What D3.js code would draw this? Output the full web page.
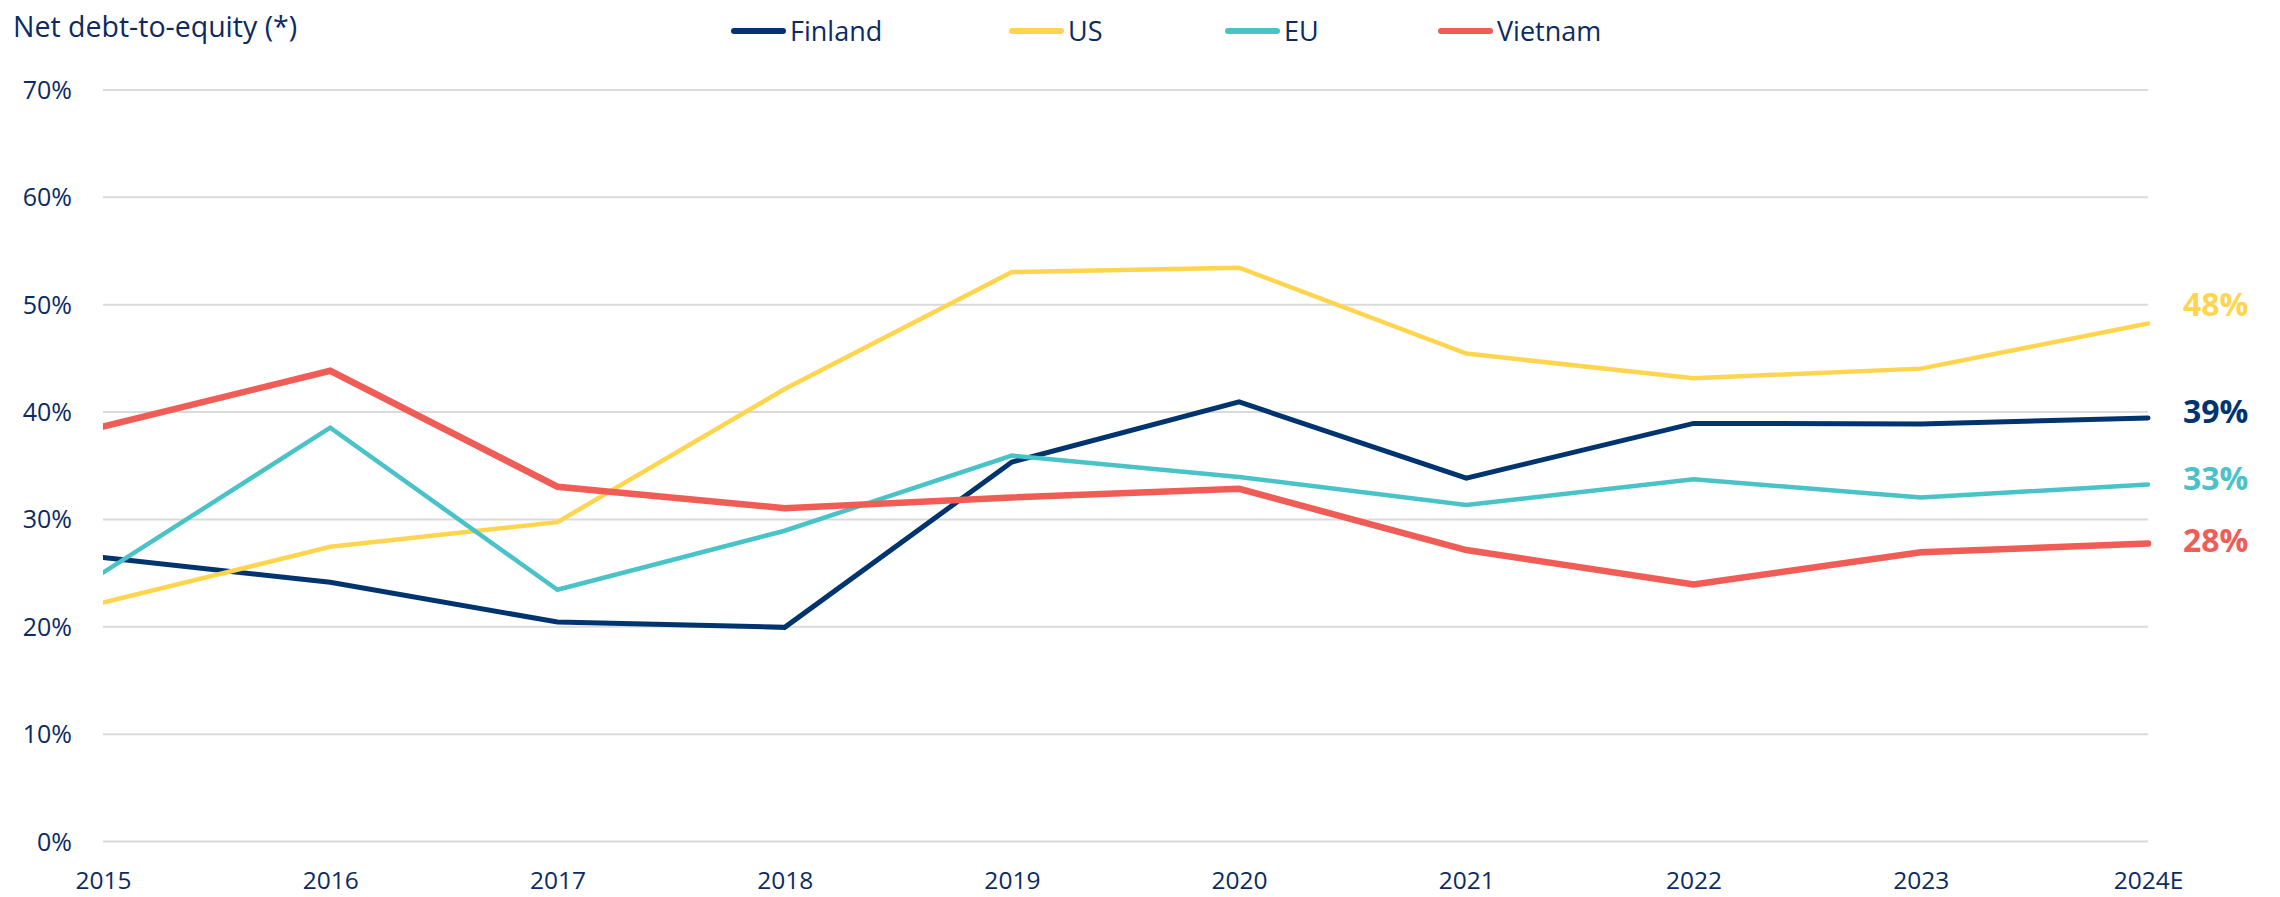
<!DOCTYPE html>
<html>
<head>
<meta charset="utf-8">
<script src="https://cdn.jsdelivr.net/npm/d3@7/dist/d3.min.js"></script>
<style>
  html, body { margin: 0; padding: 0; background: #fff; overflow: hidden; }
  svg { display: block; font-family: "Open Sans", sans-serif; }
</style>
</head>
<body>
<svg id="chart"></svg>
<script>
// <========================== data ==========================>
const years = ["2015", "2016", "2017", "2018", "2019", "2020", "2021", "2022", "2023", "2024E"];
const seriesNames = ["Finland", "US", "EU", "Vietnam"];
const finland = [26.4, 24.1, 20.4, 19.9, 35.3, 40.9, 33.8, 38.9, 38.85, 39.4];
const us = [22.2, 27.4, 29.7, 42.1, 53.0, 53.4, 45.4, 43.1, 44.0, 48.2];
const eu = [25.0, 38.5, 23.4, 28.9, 35.9, 33.9, 31.3, 33.7, 32.0, 33.2];
const vietnam = [38.6, 43.8, 33.0, 31.0, 32.0, 32.8, 27.1, 23.9, 26.9, 27.7];
const yTicks = [0, 10, 20, 30, 40, 50, 60, 70];
const yTitle = "Net debt-to-equity (*)";

const width = 2280;
const height = 897;
const margin = { top: 89.5, right: 132, bottom: 56, left: 103 };
const innerWidth = width - margin.left - margin.right;
const innerHeight = height - margin.top - margin.bottom;

const textColor = "#0c2b62";
const colors = { Finland: "#00346f", US: "#ffd54f", EU: "#4ac3c8", Vietnam: "#f05c56" };
const widths = { Finland: 5, US: 4.5, EU: 4.5, Vietnam: 6.5 };
// end label nudges, in value units
const labelNudge = { Finland: 0.6, US: 1.8, EU: 0.6, Vietnam: 0.3 };
// legend item offsets from the legend origin
const legendOffsets = [0, 278, 494, 707];

const series = [
  { name: "Finland", values: finland },
  { name: "US", values: us },
  { name: "EU", values: eu },
  { name: "Vietnam", values: vietnam },
];

// <========================== scales ==========================>
const x = d3.scalePoint().domain(years).range([0, innerWidth]);
const y = d3.scaleLinear().domain([0, 70]).range([innerHeight, 0]);

const svg = d3.select("#chart").attr("width", width).attr("height", height);

svg.append("defs").append("clipPath").attr("id", "plotclip")
  .append("rect").attr("x", 0).attr("y", -20).attr("width", innerWidth + 20).attr("height", innerHeight + 40);

const g = svg.append("g").attr("transform", `translate(${margin.left},${margin.top})`);

// y axis + gridlines
const yAxisG = g.append("g")
  .call(d3.axisLeft(y).tickValues(yTicks).tickFormat((d) => d + "%").tickSize(-innerWidth).tickPadding(31))
  .attr("font-family", null)
  .attr("font-size", null);
yAxisG.select(".domain").remove();
yAxisG.selectAll(".tick line").attr("stroke", "#dadada").attr("stroke-width", 2);
yAxisG.selectAll(".tick text").attr("fill", textColor).attr("font-size", 25).attr("dy", "0.36em");

// x axis
const xAxisG = g.append("g")
  .attr("transform", `translate(0,${innerHeight})`)
  .call(d3.axisBottom(x).tickSize(0).tickPadding(31))
  .attr("font-family", null)
  .attr("font-size", null);
xAxisG.select(".domain").remove();
xAxisG.selectAll(".tick text").attr("fill", textColor).attr("font-size", 24.5);

// lines
const line = d3.line().x((d, i) => x(years[i])).y((d) => y(d));
g.append("g").attr("clip-path", "url(#plotclip)")
  .selectAll("path")
  .data(series)
  .join("path")
  .attr("d", (d) => line(d.values))
  .attr("fill", "none")
  .attr("stroke", (d) => colors[d.name])
  .attr("stroke-width", (d) => widths[d.name])
  .attr("stroke-linejoin", "miter")
  .attr("stroke-linecap", "round");

// end labels
g.selectAll(".end-label")
  .data(series)
  .join("text")
  .attr("class", "end-label")
  .attr("x", innerWidth + 35)
  .attr("y", (d) => y(d.values[d.values.length - 1] + labelNudge[d.name]))
  .attr("dy", "0.36em")
  .attr("fill", (d) => colors[d.name])
  .attr("font-size", 32)
  .attr("font-weight", 700)
  .text((d) => Math.round(d.values[d.values.length - 1]) + "%");

// title
svg.append("text")
  .attr("x", 13)
  .attr("y", 37)
  .attr("fill", textColor)
  .attr("font-size", 28.5)
  .text(yTitle);

// legend
const legend = svg.append("g").attr("transform", "translate(731,31)");
seriesNames.forEach((name, i) => {
  const item = legend.append("g").attr("transform", `translate(${legendOffsets[i]},0)`);
  item.append("line")
    .attr("x1", 3).attr("x2", 52).attr("y1", 0).attr("y2", 0)
    .attr("stroke", colors[name]).attr("stroke-width", 6).attr("stroke-linecap", "round");
  item.append("text")
    .attr("x", 59).attr("dy", "0.36em")
    .attr("fill", textColor).attr("font-size", 27)
    .text(name);
});
</script>
</body>
</html>
